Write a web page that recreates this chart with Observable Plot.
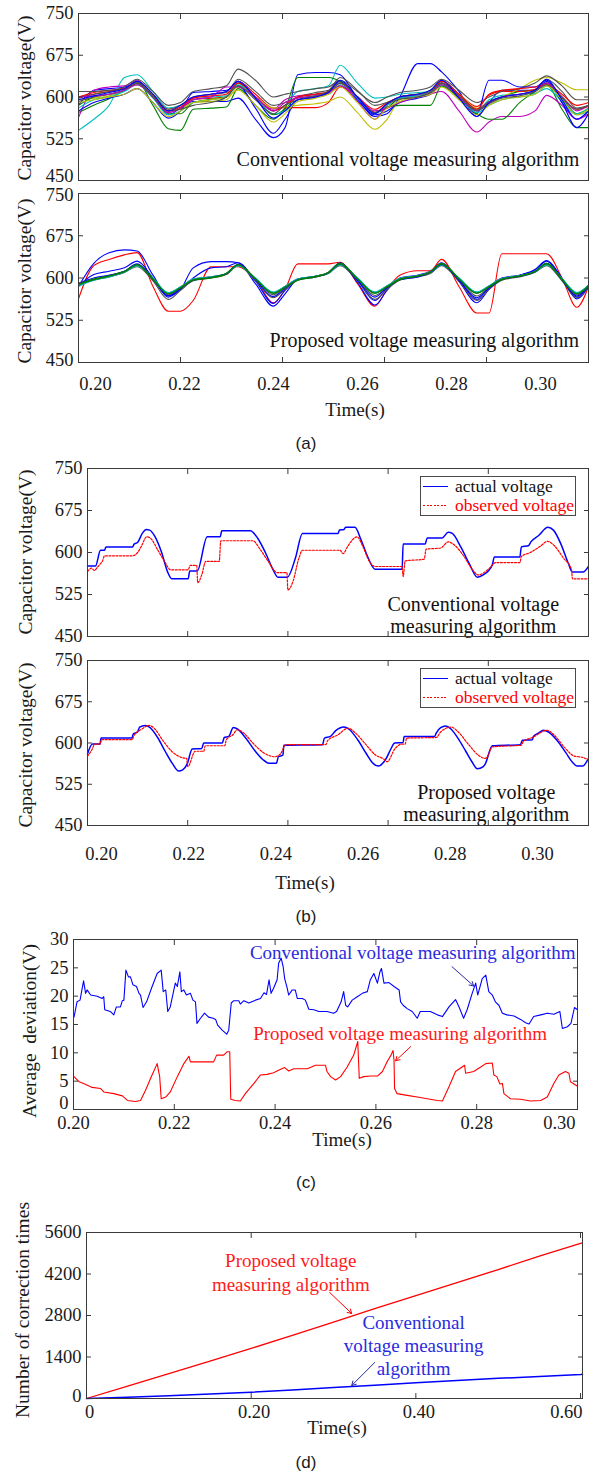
<!DOCTYPE html>
<html><head><meta charset="utf-8">
<script src="https://cdn.jsdelivr.net/npm/d3@7"></script>
<script src="https://cdn.jsdelivr.net/npm/@observablehq/plot@0.6"></script>
<style>
body{margin:0;background:#fff;}
#root{position:relative;width:589px;height:1473px;overflow:hidden;background:#fff;font-family:"Liberation Serif","Times New Roman",serif;color:#1a1a1a;}
.ylab{position:absolute;transform:translate(-50%,-50%) rotate(-90deg);white-space:pre;font-size:19.5px;line-height:1;}
.xlab{position:absolute;transform:translate(-50%,-50%);white-space:pre;font-size:19px;line-height:1;}
.cap{position:absolute;transform:translate(-50%,-50%);font-family:"Liberation Sans",Arial,sans-serif;font-size:17px;line-height:1;}
.legend{position:absolute;border:1px solid #4a4a4a;background:#fff;box-sizing:border-box;}
.sw{position:absolute;left:2px;width:25px;}
.lt{position:absolute;left:34px;transform:translateY(-50%);font-size:17.5px;line-height:1;white-space:nowrap;}
</style></head>
<body><div id="root"></div>
<script>
// ---------------- DATA ----------------
// Panel (a): shared time samples (s) and capacitor voltages (V)
const aTime = [0.2000,0.2030,0.2060,0.2090,0.2115,0.2146,0.2176, 0.2200,0.2225,0.2260,0.2290,0.2313,0.2347,0.2382, 0.2405,0.2430,0.2465,0.2490,0.2513,0.2547,0.2581, 0.2605,0.2630,0.2665,0.2690,0.2712,0.2746,0.2781, 0.2805,0.2830,0.2865,0.2895,0.2918,0.2948,0.2977, 0.3000];
const aXTicks = [0.20,0.22,0.24,0.26,0.28,0.30];
const vTicks = [450,525,600,675,750];

// conventional algorithm, one array per submodule capacitor
const conv1  = [585,612,615,618,625,600,568, 580,592,592,592,598,560,527, 545,640,644,644,640,598,565, 570,600,660,660,645,610,565, 590,612,612,612,628,590,560, 575];
const conv2  = [572,585,597,612,628,585,543, 540,578,580,582,615,585,560, 578,600,605,608,625,600,572, 580,598,602,612,625,600,575, 590,600,610,612,622,578,545, 545];
const conv3  = [598,605,610,615,625,603,575, 578,595,598,600,628,605,580, 581,581,581,590,618,600,578, 590,600,605,606,622,605,583, 603,610,610,614,625,600,578, 583];
const conv4  = [540,560,585,635,640,610,580, 585,595,600,602,628,600,575, 585,610,615,620,657,625,598, 600,605,608,610,620,600,575, 595,603,605,607,615,592,568, 575];
const conv5  = [563,612,618,620,630,602,572, 580,598,605,610,628,600,578, 595,602,605,608,620,592,560, 585,600,604,606,610,575,537, 555,565,565,575,603,585,560, 570];
const conv6  = [595,598,602,612,628,603,578, 580,590,592,595,618,600,580, 582,585,588,592,600,572,542, 560,595,605,610,625,605,580, 590,600,615,630,635,625,613, 613];
const conv7  = [600,605,610,618,632,610,585, 590,610,615,620,650,630,600, 605,610,615,618,630,610,590, 600,608,612,618,632,612,590, 600,610,615,625,638,620,595, 595];
const conv8  = [575,590,598,605,615,590,562, 575,608,610,612,620,580,535, 560,595,600,610,628,595,568, 575,590,598,605,625,600,570, 630,630,618,618,630,590,545, 570];
const conv9  = [585,600,605,612,625,600,570, 570,590,596,600,625,598,568, 580,635,635,635,628,600,572, 582,585,585,585,620,598,570, 560,560,590,610,625,598,570, 580];
const conv10 = [592,600,605,612,628,605,578, 585,600,605,608,632,610,585, 590,600,608,612,635,612,585, 590,600,605,610,630,605,578, 592,600,605,612,632,610,580, 585];
const conv11 = [600,608,612,615,622,600,575, 582,598,602,605,625,600,575, 585,600,605,610,625,600,572, 585,598,602,608,628,605,578, 605,612,615,618,622,605,585, 590];
const conv12 = [580,595,600,610,622,598,568, 575,590,595,600,622,598,570, 575,595,602,605,622,598,570, 585,598,602,608,622,600,572, 585,595,600,605,620,595,570, 580];
const conv13 = [600,602,605,612,622,600,572, 580,595,600,618,618,600,575, 590,598,602,606,620,600,575, 580,590,600,605,622,600,575, 590,600,605,610,625,600,575, 585];
const conv14 = [590,595,600,605,615,590,565, 575,590,595,600,612,585,555, 570,592,598,605,618,590,560, 580,592,600,605,618,595,568, 585,595,600,605,620,595,568, 578];
const conv15 = [610,610,612,615,625,600,575, 578,585,590,600,620,595,570, 585,595,602,610,625,600,572, 588,596,600,608,625,602,576, 588,598,602,610,622,600,578, 585];
const conv16 = [595,602,608,615,628,605,575, 585,600,605,610,628,598,562, 575,595,600,608,630,600,570, 588,600,605,612,630,598,565, 590,600,605,612,632,595,560, 575];

// proposed algorithm
const prop1  = [588,597,603,611,623,597,572, 582,596,600,607,623,598,573, 583,596,602,609,625,598,573, 584,597,603,610,625,598,573, 584,597,603,611,625,597,572, 585];
const prop2  = [585,596,602,610,622,599,574, 584,598,602,608,622,600,575, 585,598,603,609,624,600,575, 586,599,604,610,624,600,575, 586,598,604,611,624,599,574, 587];
const prop3  = [585,626,645,650,648,605,569, 580,618,629,629,627,590,550, 572,598,603,610,626,592,552, 578,600,605,612,626,594,556, 580,598,605,615,631,600,563, 585];
const prop4  = [563,622,633,641,645,585,541, 541,560,620,620,620,598,556, 580,625,625,625,628,590,550, 580,605,613,613,633,585,538, 538,643,643,643,643,600,548, 585];
const prop5  = [588,596,602,610,620,595,562, 578,595,600,606,622,595,565, 580,596,602,608,622,595,562, 580,596,602,608,622,594,560, 580,596,602,610,622,595,565, 585];
const prop6  = [590,600,605,612,625,598,568, 582,596,601,608,624,597,567, 582,597,602,609,625,596,566, 583,597,602,610,624,596,565, 582,597,603,611,626,597,568, 586];
const prop7  = [589,598,604,612,624,599,572, 583,597,601,608,624,599,573, 584,597,603,610,626,599,573, 585,598,604,611,626,599,573, 585,598,604,612,626,598,572, 587];
const prop8  = [587,597,603,610,623,598,573, 584,598,602,607,623,599,574, 585,598,603,609,625,599,574, 586,599,604,610,625,599,574, 586,599,604,611,625,598,573, 587];
const prop9  = [590,599,604,611,623,599,573, 584,597,602,608,623,598,574, 585,597,603,610,625,599,574, 585,598,603,611,625,599,574, 585,598,604,611,625,598,573, 587];
const prop10 = [588,597,603,611,622,600,574, 584,598,602,608,622,599,574, 585,598,603,609,623,600,575, 586,599,604,610,623,600,575, 586,599,604,611,623,599,574, 588];
const prop11 = [591,599,605,612,624,598,570, 583,597,602,608,624,598,570, 584,597,603,610,625,598,569, 584,598,603,611,625,598,568, 584,598,604,611,625,597,570, 586];
const prop12 = [586,606,612,618,630,600,566, 580,600,618,620,627,595,555, 578,598,603,610,627,596,560, 582,598,603,611,627,596,562, 584,600,605,614,630,598,566, 586];

// Panel (b): [time, voltage] pairs
const bConvActual = [[0.2000,576],[0.2016,576],[0.2026,604],[0.2034,604],[0.2037,610],[0.2090,610],[0.2093,615],[0.2100,618],[0.2110,635],[0.2117,641],[0.2124,640],[0.2135,628],[0.2148,600],[0.2160,565],[0.2168,553],[0.2201,553],[0.2204,567],[0.2219,567],[0.2239,628],[0.2265,628],[0.2268,639],[0.2325,639],[0.2340,625],[0.2355,600],[0.2370,570],[0.2380,556],[0.2399,556],[0.2415,590],[0.2429,634],[0.2500,634],[0.2503,640],[0.2512,641],[0.2515,645],[0.2534,645],[0.2545,625],[0.2558,595],[0.2574,570],[0.2628,570],[0.2630,615],[0.2674,615],[0.2678,626],[0.2708,626],[0.2720,636],[0.2728,634],[0.2745,610],[0.2762,580],[0.2778,556],[0.2790,560],[0.2808,578],[0.2812,592],[0.2863,592],[0.2866,610],[0.2880,612],[0.2885,619],[0.2900,630],[0.2919,645],[0.2930,640],[0.2945,615],[0.2960,580],[0.2968,565],[0.2989,565],[0.3000,575]];
const bConvObserved = [[0.2000,566],[0.2008,572],[0.2014,568],[0.2020,574],[0.2026,580],[0.2030,585],[0.2034,594],[0.2090,594],[0.2100,600],[0.2108,612],[0.2118,628],[0.2125,626],[0.2140,605],[0.2155,582],[0.2166,569],[0.2201,569],[0.2205,577],[0.2218,577],[0.2220,546],[0.2228,560],[0.2236,584],[0.2263,584],[0.2266,621],[0.2330,621],[0.2345,605],[0.2360,585],[0.2379,564],[0.2398,564],[0.2400,533],[0.2410,548],[0.2422,590],[0.2429,604],[0.2504,604],[0.2510,598],[0.2520,612],[0.2538,628],[0.2550,610],[0.2562,585],[0.2574,575],[0.2628,575],[0.2630,557],[0.2634,585],[0.2672,588],[0.2676,606],[0.2705,608],[0.2720,619],[0.2730,615],[0.2750,595],[0.2768,570],[0.2780,560],[0.2800,570],[0.2815,582],[0.2863,582],[0.2866,593],[0.2884,600],[0.2905,612],[0.2918,620],[0.2932,612],[0.2950,590],[0.2966,570],[0.2968,553],[0.3000,553]];
const bPropActual = [[0.2000,580],[0.2010,598],[0.2025,598],[0.2027,609],[0.2089,609],[0.2091,616],[0.2100,620],[0.2104,629],[0.2115,632],[0.2125,628],[0.2140,610],[0.2155,585],[0.2170,562],[0.2182,549],[0.2190,551],[0.2199,562],[0.2209,589],[0.2228,590],[0.2232,600],[0.2269,600],[0.2273,610],[0.2282,612],[0.2291,628],[0.2300,625],[0.2315,610],[0.2335,585],[0.2350,570],[0.2362,563],[0.2377,563],[0.2381,575],[0.2390,578],[0.2392,596],[0.2469,597],[0.2473,609],[0.2485,612],[0.2495,622],[0.2512,629],[0.2522,625],[0.2540,605],[0.2557,580],[0.2570,563],[0.2580,558],[0.2595,570],[0.2606,590],[0.2613,600],[0.2630,601],[0.2632,612],[0.2693,612],[0.2696,618],[0.2705,628],[0.2715,631],[0.2725,626],[0.2740,608],[0.2755,585],[0.2768,565],[0.2778,553],[0.2790,557],[0.2794,562],[0.2808,595],[0.2864,597],[0.2868,605],[0.2888,606],[0.2890,612],[0.2900,618],[0.2910,623],[0.2920,620],[0.2937,605],[0.2955,582],[0.2968,565],[0.2977,558],[0.2988,558],[0.3000,572]];
const bPropObserved = [[0.2000,576],[0.2010,590],[0.2014,598],[0.2025,598],[0.2028,606],[0.2089,606],[0.2093,614],[0.2108,625],[0.2123,632],[0.2135,625],[0.2150,605],[0.2168,585],[0.2190,573],[0.2198,572],[0.2200,557],[0.2215,585],[0.2232,585],[0.2235,595],[0.2274,595],[0.2277,606],[0.2290,615],[0.2299,624],[0.2312,618],[0.2330,600],[0.2352,582],[0.2374,575],[0.2385,580],[0.2396,597],[0.2476,597],[0.2479,604],[0.2500,615],[0.2520,627],[0.2535,618],[0.2555,598],[0.2575,578],[0.2591,571],[0.2598,566],[0.2614,590],[0.2627,598],[0.2634,598],[0.2637,609],[0.2696,610],[0.2705,620],[0.2726,629],[0.2740,620],[0.2760,598],[0.2780,578],[0.2794,572],[0.2800,578],[0.2808,593],[0.2866,596],[0.2870,603],[0.2888,610],[0.2917,623],[0.2932,614],[0.2952,592],[0.2972,576],[0.2988,574],[0.3000,569]];
const bLegendNames = ["actual voltage","observed voltage"];

// Panel (c): average deviation (V)
const cXTicks = [0.20,0.22,0.24,0.26,0.28,0.30];
const cYTicks = [0,5,10,15,20,25,30];
const cConventional = [[0.2001,16.3],[0.2007,19.0],[0.2013,19.3],[0.2020,22.7],[0.2024,20.5],[0.2027,21.1],[0.2034,20.2],[0.2047,20.0],[0.2057,19.6],[0.2060,19.9],[0.2062,17.6],[0.2073,17.3],[0.2080,16.7],[0.2085,18.1],[0.2093,18.1],[0.2097,19.2],[0.2100,19.3],[0.2104,24.6],[0.2109,23.4],[0.2113,23.4],[0.2118,22.0],[0.2125,21.7],[0.2130,20.5],[0.2133,20.2],[0.2138,18.0],[0.2145,19.0],[0.2156,21.7],[0.2166,24.0],[0.2174,24.6],[0.2178,20.8],[0.2183,21.1],[0.2187,17.3],[0.2192,18.1],[0.2202,22.3],[0.2206,21.7],[0.2211,24.3],[0.2214,20.8],[0.2219,21.1],[0.2224,20.2],[0.2232,20.5],[0.2237,19.3],[0.2242,19.0],[0.2245,15.2],[0.2252,16.1],[0.2260,17.0],[0.2268,16.3],[0.2277,16.1],[0.2282,15.9],[0.2286,14.9],[0.2295,14.0],[0.2304,13.3],[0.2308,14.0],[0.2313,18.8],[0.2318,19.2],[0.2328,19.2],[0.2331,18.6],[0.2338,19.2],[0.2348,18.8],[0.2361,19.3],[0.2371,19.6],[0.2378,20.6],[0.2383,20.3],[0.2388,22.9],[0.2392,20.5],[0.2397,21.4],[0.2404,22.9],[0.2407,25.8],[0.2412,26.7],[0.2416,25.2],[0.2419,23.1],[0.2424,21.4],[0.2427,20.2],[0.2434,21.1],[0.2440,21.1],[0.2444,19.6],[0.2454,19.6],[0.2460,19.3],[0.2467,17.7],[0.2477,17.6],[0.2487,17.3],[0.2503,17.3],[0.2516,17.0],[0.2522,17.3],[0.2531,19.0],[0.2536,20.8],[0.2540,18.4],[0.2544,18.1],[0.2553,19.3],[0.2563,19.9],[0.2573,20.5],[0.2583,20.8],[0.2589,22.9],[0.2596,24.0],[0.2603,22.3],[0.2608,24.3],[0.2611,24.9],[0.2616,22.3],[0.2626,22.4],[0.2636,21.7],[0.2646,21.1],[0.2649,19.0],[0.2654,18.4],[0.2662,17.8],[0.2672,17.3],[0.2682,16.1],[0.2688,17.3],[0.2708,17.3],[0.2722,16.7],[0.2732,16.4],[0.2745,18.1],[0.2758,19.4],[0.2765,18.1],[0.2774,16.1],[0.2781,17.6],[0.2791,20.5],[0.2798,22.3],[0.2802,20.2],[0.2811,23.1],[0.2818,23.7],[0.2824,20.8],[0.2831,20.2],[0.2837,19.0],[0.2844,18.4],[0.2851,17.0],[0.2860,16.7],[0.2874,16.5],[0.2887,15.9],[0.2897,15.3],[0.2904,15.1],[0.2913,16.4],[0.2927,16.7],[0.2940,17.0],[0.2953,16.8],[0.2965,17.3],[0.2970,14.3],[0.2980,14.6],[0.2987,15.2],[0.2994,18.0],[0.3000,17.6]];
const cProposed = [[0.2001,5.8],[0.2011,4.9],[0.2020,4.6],[0.2037,3.9],[0.2054,3.7],[0.2060,3.1],[0.2080,2.8],[0.2097,2.4],[0.2107,1.6],[0.2123,1.4],[0.2133,1.6],[0.2143,3.4],[0.2153,5.5],[0.2166,8.1],[0.2171,5.8],[0.2174,1.9],[0.2183,2.2],[0.2192,3.1],[0.2206,5.8],[0.2219,8.1],[0.2229,9.4],[0.2232,8.4],[0.2252,8.4],[0.2278,8.4],[0.2284,9.6],[0.2298,9.6],[0.2305,10.2],[0.2310,10.2],[0.2312,1.8],[0.2321,1.6],[0.2331,1.5],[0.2341,2.8],[0.2358,4.6],[0.2371,6.1],[0.2384,6.2],[0.2397,6.5],[0.2411,7.1],[0.2419,7.4],[0.2427,6.8],[0.2437,7.2],[0.2464,7.2],[0.2480,7.8],[0.2500,7.8],[0.2503,6.7],[0.2510,5.8],[0.2520,5.2],[0.2530,5.8],[0.2543,7.5],[0.2556,9.6],[0.2564,12.0],[0.2567,5.5],[0.2576,5.8],[0.2589,5.9],[0.2603,5.9],[0.2613,6.7],[0.2622,8.4],[0.2626,9.0],[0.2630,9.6],[0.2634,10.4],[0.2636,8.7],[0.2637,3.7],[0.2642,2.8],[0.2662,2.5],[0.2682,2.2],[0.2702,1.9],[0.2722,1.6],[0.2732,1.5],[0.2745,4.0],[0.2758,6.7],[0.2771,7.5],[0.2776,7.8],[0.2778,6.4],[0.2794,6.7],[0.2808,7.5],[0.2818,8.1],[0.2831,8.2],[0.2834,6.1],[0.2840,5.8],[0.2846,4.5],[0.2851,4.6],[0.2854,2.8],[0.2867,1.9],[0.2887,1.8],[0.2907,1.5],[0.2927,1.6],[0.2940,2.2],[0.2953,4.6],[0.2963,6.1],[0.2976,6.7],[0.2983,6.4],[0.2986,4.9],[0.3000,4.1]];

// Panel (d): number of correction times
const dTime = [0,0.05,0.10,0.15,0.20,0.25,0.30,0.35,0.40,0.45,0.50,0.55,0.60,0.6024];
const dProposed = [0,420,840,1260,1690,2130,2580,3030,3470,3910,4350,4800,5230,5250];
const dConventional = [0,45,95,150,210,290,370,450,530,605,680,745,810,815];
const dXTicks = [0,0.20,0.40,0.60];
const dYTicks = [0,1400,2800,4200,5600];

// Annotations: [text, time, value]
const aNoteTop = [["Conventional voltage measuring algorithm",0.2646,489.5]];
const aNoteBottom = [["Proposed voltage measuring algorithm",0.2678,490.8]];
const bNoteTop = [["Conventional voltage\nmeasuring algorithm",0.2770,489.3]];
const bNoteBottom = [["Proposed voltage\nmeasuring algorithm",0.2796,490.9]];
const cNotes = [["Conventional voltage measuring algorithm",0.2673,27.7],["Proposed voltage measuring algorithm",0.2648,13.4]];
const cArrows = [[0.2751,25.2,0.2794,21.8],[0.2669,11.1,0.2639,8.6]];
const dNotes = [["Proposed voltage\nmeasuring algorithm",0.2481,4284],["Conventional\nvoltage measuring\nalgorithm",0.3973,1822]];
const dArrows = [[0.2954,3576,0.3221,2867],[0.3500,1214,0.3221,439]];

// ---------------- STYLE / LAYOUT ----------------
const FONT = '"Liberation Serif","Times New Roman",serif';
const FRAME = "#3a3a3a";
const BLUE="#0000ff", GREEN="#008000", RED="#ff0000", CYAN="#00bfbf", MAGENTA="#bf00bf", OLIVE="#bfbf00", GRAY="#505050";
const TXTBLUE = "#2a2ae0", TXTRED = "#ff1a1a";
const convSeries = [conv1,conv2,conv3,conv4,conv5,conv6,conv7,conv8,conv9,conv10,conv11,conv12,conv13,conv14,conv15,conv16];
const convColors = [BLUE,GREEN,RED,CYAN,MAGENTA,OLIVE,GRAY,BLUE,GREEN,GRAY,RED,CYAN,MAGENTA,OLIVE,GRAY,BLUE];
const propSeries = [prop4,prop3,prop12,prop5,prop11,prop9,prop8,prop10,prop2,prop6,prop1,prop7];
const propColors = [RED,BLUE,BLUE,GRAY,GRAY,OLIVE,MAGENTA,CYAN,CYAN,BLUE,GREEN,GREEN];

const fmt2 = d3.format(".2f");
const none = () => "";
const root = document.getElementById("root");
const rowsOf = (ts, vs) => ts.map((t, i) => ({t, v: vs[i]}));
const pairs = ps => ps.map(([t, v]) => ({t, v}));

function mk(top, o) {
  const opts = {
    width: 589, height: o.height,
    marginTop: o.mt, marginBottom: o.mb, marginLeft: o.ml, marginRight: o.mr,
    x: {domain: o.xd},
    style: {fontFamily: FONT, fontSize: "18.5px", color: "#1a1a1a", background: "transparent", overflow: "visible"},
    marks: o.marks
  };
  if (o.yd) opts.y = {domain: o.yd};
  const svg = Plot.plot(opts);
  svg.style.position = "absolute";
  svg.style.left = "0px";
  svg.style.top = top + "px";
  root.appendChild(svg);
}

function box(xT, yT, o = {}) {
  const {xLabelMarks = [], lowDy = 0, highDy = 0} = o;
  const lab = (ticks, dy) => Plot.axisY(ticks, {anchor: "left", tickSize: 0, tickPadding: 5, tickFormat: d => String(d), label: null, dy});
  return [
    Plot.frame({stroke: FRAME, strokeWidth: 1}),
    Plot.axisX(xT, {anchor: "top", tickSize: -5, tickFormat: none, label: null, stroke: FRAME}),
    Plot.axisX(xT, {anchor: "bottom", tickSize: -5, tickFormat: none, label: null, stroke: FRAME}),
    Plot.axisY(yT, {anchor: "left", tickSize: -5, tickFormat: none, label: null, stroke: FRAME}),
    Plot.axisY(yT, {anchor: "right", tickSize: -5, tickFormat: none, label: null, stroke: FRAME}),
    lab(yT.slice(1, -1), 0),
    lab(yT.slice(0, 1), lowDy),
    lab(yT.slice(-1), highDy),
    ...xLabelMarks
  ];
}

function note(data, opts = {}) {
  return Plot.text(data, {x: d => d[1], y: d => d[2], text: d => d[0], textAnchor: "middle", lineAnchor: "middle",
    fontFamily: FONT, fontSize: 20, fill: "#111", lineHeight: 1.1, ...opts});
}

function strip(top, ml, domain, ticks) {
  mk(top, {height: 30, mt: 0, mb: 28, ml, mr: 1, xd: domain,
    marks: [Plot.axisX(ticks, {anchor: "bottom", tickSize: 0, tickPadding: 0, tickFormat: fmt2, label: null})]});
}

function html(cls, text, x, y, extra = {}) {
  const el = document.createElement("div");
  el.className = cls;
  el.textContent = text;
  el.style.left = x + "px";
  el.style.top = y + "px";
  Object.assign(el.style, extra);
  root.appendChild(el);
}

function legend(top) {
  const swatches = [
    {height: "1.4px", background: BLUE},
    {height: "1.3px", background: "repeating-linear-gradient(to right," + RED + " 0 2px,transparent 2px 3.5px)"}
  ];
  const colors = ["#111", RED];
  const lg = document.createElement("div");
  lg.className = "legend";
  Object.assign(lg.style, {left: "420px", top: top + "px", width: "156px", height: "40px"});
  bLegendNames.forEach((name, i) => {
    const sw = document.createElement("span");
    sw.className = "sw";
    Object.assign(sw.style, swatches[i]);
    sw.style.top = (9 + i * 19) + "px";
    const lt = document.createElement("span");
    lt.className = "lt";
    lt.style.top = (9.5 + i * 19) + "px";
    lt.style.color = colors[i];
    lt.textContent = name;
    lg.appendChild(sw); lg.appendChild(lt);
  });
  root.appendChild(lg);
}

// ---------------- PANEL (a) ----------------
mk(0, {height: 186, mt: 13, mb: 6, ml: 78, mr: 1, xd: [0.20, 0.30], yd: [450, 750],
  marks: [
    ...convSeries.map((s, k) => Plot.line(rowsOf(aTime, s), {x: "t", y: "v", stroke: convColors[k], strokeWidth: 1.1, curve: "monotone-x"})),
    note(aNoteTop),
    ...box(aXTicks, vTicks, {lowDy: -4})
  ]});
mk(183, {height: 186, mt: 10, mb: 7, ml: 78, mr: 1, xd: [0.20, 0.30], yd: [450, 750],
  marks: [
    ...propSeries.map((s, k) => Plot.line(rowsOf(aTime, s), {x: "t", y: "v", stroke: propColors[k], strokeWidth: 1.1, curve: "monotone-x"})),
    note(aNoteBottom),
    ...box(aXTicks, vTicks, {highDy: 2, lowDy: -2})
  ]});
strip(374, 78, [0.19618, 0.31079], aXTicks);

// ---------------- PANEL (b) ----------------
mk(458, {height: 186, mt: 10, mb: 8, ml: 87, mr: 1, xd: [0.20, 0.30], yd: [450, 750],
  marks: [
    Plot.line(pairs(bConvActual), {x: "t", y: "v", stroke: BLUE, strokeWidth: 1.5, curve: "monotone-x"}),
    Plot.line(pairs(bConvObserved), {x: "t", y: "v", stroke: RED, strokeWidth: 1.2, strokeDasharray: "2,1.5", curve: "monotone-x"}),
    note(bNoteTop),
    ...box(aXTicks, vTicks)
  ]});
mk(650, {height: 186, mt: 10, mb: 11, ml: 87, mr: 1, xd: [0.20, 0.30], yd: [450, 750],
  marks: [
    Plot.line(pairs(bPropActual), {x: "t", y: "v", stroke: BLUE, strokeWidth: 1.5, curve: "monotone-x"}),
    Plot.line(pairs(bPropObserved), {x: "t", y: "v", stroke: RED, strokeWidth: 1.2, strokeDasharray: "2,1.5", curve: "monotone-x"}),
    note(bNoteBottom),
    ...box(aXTicks, vTicks)
  ]});
strip(844, 87, [0.19679, 0.31170], aXTicks);
legend(476);
legend(668);

// ---------------- PANEL (c) ----------------
mk(929, {height: 200, mt: 10, mb: 20, ml: 73, mr: 12, xd: [0.20, 0.30], yd: [0, 30],
  marks: [
    Plot.line(pairs(cConventional), {x: "t", y: "v", stroke: BLUE, strokeWidth: 1.1}),
    Plot.line(pairs(cProposed), {x: "t", y: "v", stroke: RED, strokeWidth: 1.1}),
    Plot.text([cNotes[0]], {x: d => d[1], y: d => d[2], text: d => d[0], fill: TXTBLUE, fontSize: 19, fontFamily: FONT}),
    Plot.text([cNotes[1]], {x: d => d[1], y: d => d[2], text: d => d[0], fill: TXTRED, fontSize: 19, fontFamily: FONT}),
    Plot.arrow([cArrows[0]], {x1: d => d[0], y1: d => d[1], x2: d => d[2], y2: d => d[3], stroke: "#2a2aa0", strokeWidth: 1, headLength: 7}),
    Plot.arrow([cArrows[1]], {x1: d => d[0], y1: d => d[1], x2: d => d[2], y2: d => d[3], stroke: RED, strokeWidth: 1, headLength: 7}),
    ...box(cXTicks, cYTicks, {lowDy: -6, xLabelMarks: [
      Plot.axisX(cXTicks.slice(0, -1), {anchor: "bottom", tickSize: 0, tickPadding: 6, tickFormat: fmt2, label: null}),
      Plot.axisX(cXTicks.slice(-1), {anchor: "bottom", tickSize: 0, tickPadding: 6, tickFormat: fmt2, textAnchor: "end", dx: -2, label: null})
    ]})
  ]});

// ---------------- PANEL (d) ----------------
mk(1222, {height: 200, mt: 10, mb: 24, ml: 86, mr: 7, xd: [0, 0.6024], yd: [0, 5600],
  marks: [
    Plot.line(rowsOf(dTime, dProposed), {x: "t", y: "v", stroke: RED, strokeWidth: 1.3}),
    Plot.line(rowsOf(dTime, dConventional), {x: "t", y: "v", stroke: BLUE, strokeWidth: 1.5}),
    Plot.text([dNotes[0]], {x: d => d[1], y: d => d[2], text: d => d[0], fill: TXTRED, fontSize: 19, fontFamily: FONT, lineHeight: 1.26}),
    Plot.text([dNotes[1]], {x: d => d[1], y: d => d[2], text: d => d[0], fill: TXTBLUE, fontSize: 19, fontFamily: FONT, lineHeight: 1.21}),
    Plot.arrow([dArrows[0]], {x1: d => d[0], y1: d => d[1], x2: d => d[2], y2: d => d[3], stroke: RED, strokeWidth: 1, headLength: 7}),
    Plot.arrow([dArrows[1]], {x1: d => d[0], y1: d => d[1], x2: d => d[2], y2: d => d[3], stroke: "#2a2aa0", strokeWidth: 1, headLength: 7}),
    ...box(dXTicks, dYTicks, {lowDy: -2, xLabelMarks: [
      Plot.axisX(dXTicks.slice(0, -1), {anchor: "bottom", tickSize: 0, tickPadding: 6, tickFormat: d => d === 0 ? "0" : fmt2(d), dx: 3, label: null}),
      Plot.axisX(dXTicks.slice(-1), {anchor: "bottom", tickSize: 0, tickPadding: 6, tickFormat: fmt2, textAnchor: "end", dx: 2, label: null})
    ]})
  ]});

// ---------------- TITLES & CAPTIONS ----------------
html("ylab", "Capacitor voltage(V)", 25, 98);
html("ylab", "Capacitor voltage(V)", 25, 281);
html("ylab", "Capacitor voltage(V)", 26, 552);
html("ylab", "Capacitor voltage(V)", 26, 745);
html("ylab", "Average  deviation(V)", 30, 1031);
html("ylab", "Number of correction times", 23, 1310);
html("xlab", "Time(s)", 355, 409);
html("xlab", "Time(s)", 305, 882);
html("xlab", "Time(s)", 342, 1139);
html("xlab", "Time(s)", 337, 1427);
html("cap", "(a)", 306, 443);
html("cap", "(b)", 306, 916);
html("cap", "(c)", 306, 1182);
html("cap", "(d)", 306, 1462);
</script></body></html>
